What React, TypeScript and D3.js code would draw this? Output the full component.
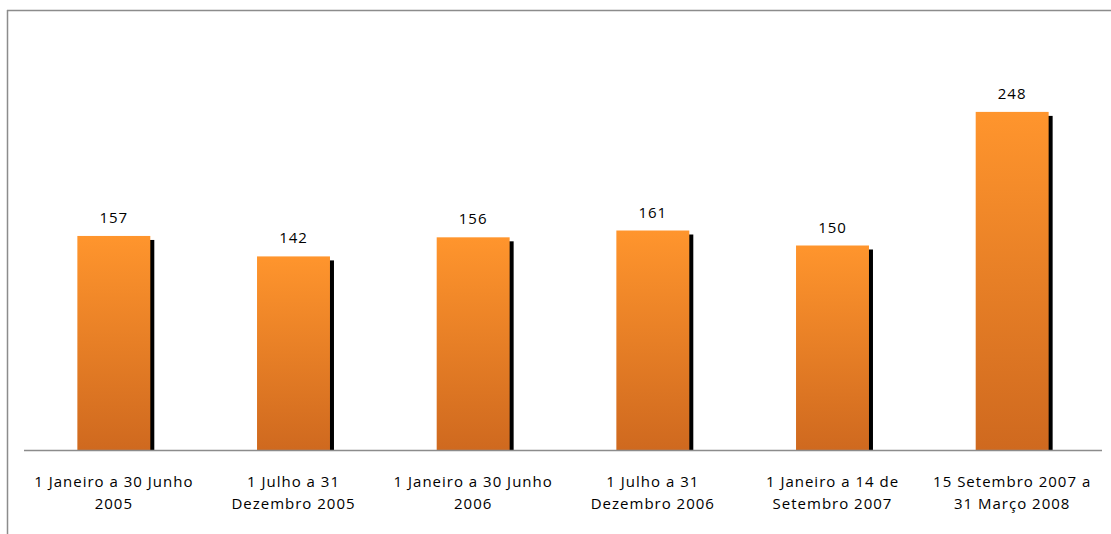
import React from "react";
import * as d3 from "d3";

const categories: string[][] = [
  ["1 Janeiro a 30 Junho", "2005"],
  ["1 Julho a 31", "Dezembro 2005"],
  ["1 Janeiro a 30 Junho", "2006"],
  ["1 Julho a 31", "Dezembro 2006"],
  ["1 Janeiro a 14 de", "Setembro 2007"],
  ["15 Setembro 2007 a", "31 Março 2008"],
];
const values: number[] = [157, 142, 156, 161, 150, 248];

const W = 1111;
const H = 534;
const plot = { left: 24, right: 1102, top: 41, bottom: 450 };
const font = "'Open Sans', 'DejaVu Sans', sans-serif";

export default function App() {
  const x = d3
    .scaleBand<number>()
    .domain(values.map((_, i) => i))
    .range([plot.left, plot.right])
    .paddingInner(0.594)
    .paddingOuter(0.297);
  const y = d3.scaleLinear().domain([0, 300]).range([plot.bottom, plot.top]);
  const bw = x.bandwidth();

  return (
    <svg
      width={W}
      height={H}
      style={{ position: "absolute", left: 0, top: 0, background: "#fff" }}
    >
      <defs>
        <linearGradient id="barFill" x1="0" y1="0" x2="0" y2="1">
          <stop offset="0%" stopColor="#FF952D" />
          <stop offset="100%" stopColor="#CF691F" />
        </linearGradient>
      </defs>
      {/* chart frame */}
      <line x1={7} y1={10.5} x2={W} y2={10.5} stroke="#8c8c8c" strokeWidth={1.5} />
      <line x1={7.5} y1={10} x2={7.5} y2={H} stroke="#8c8c8c" strokeWidth={1.5} />

      {values.map((v, i) => {
        const x0 = x(i)!;
        const yTop = y(v);
        return (
          <g key={i}>
            {/* drop shadow */}
            <rect
              x={x0 + 4}
              y={yTop + 4}
              width={bw}
              height={plot.bottom - yTop - 4}
              fill="#000"
            />
            <rect
              x={x0}
              y={yTop}
              width={bw}
              height={plot.bottom - yTop}
              fill="url(#barFill)"
            />
            <text
              x={x0 + bw / 2}
              y={yTop - 13}
              textAnchor="middle"
              fontFamily={font}
              fontSize={15}
              letterSpacing={1}
              fill="#000"
            >
              {v}
            </text>
          </g>
        );
      })}

      <line
        x1={plot.left}
        y1={plot.bottom + 0.5}
        x2={plot.right}
        y2={plot.bottom + 0.5}
        stroke="#8c8c8c"
        strokeWidth={1.5}
      />

      {categories.map((lines, i) => (
        <text
          key={i}
          x={x(i)! + bw / 2}
          textAnchor="middle"
          fontFamily={font}
          fontSize={15}
          letterSpacing={1}
          fill="#000"
        >
          {lines.map((l, j) => (
            <tspan key={j} x={x(i)! + bw / 2} y={487 + j * 22}>
              {l}
            </tspan>
          ))}
        </text>
      ))}
    </svg>
  );
}
